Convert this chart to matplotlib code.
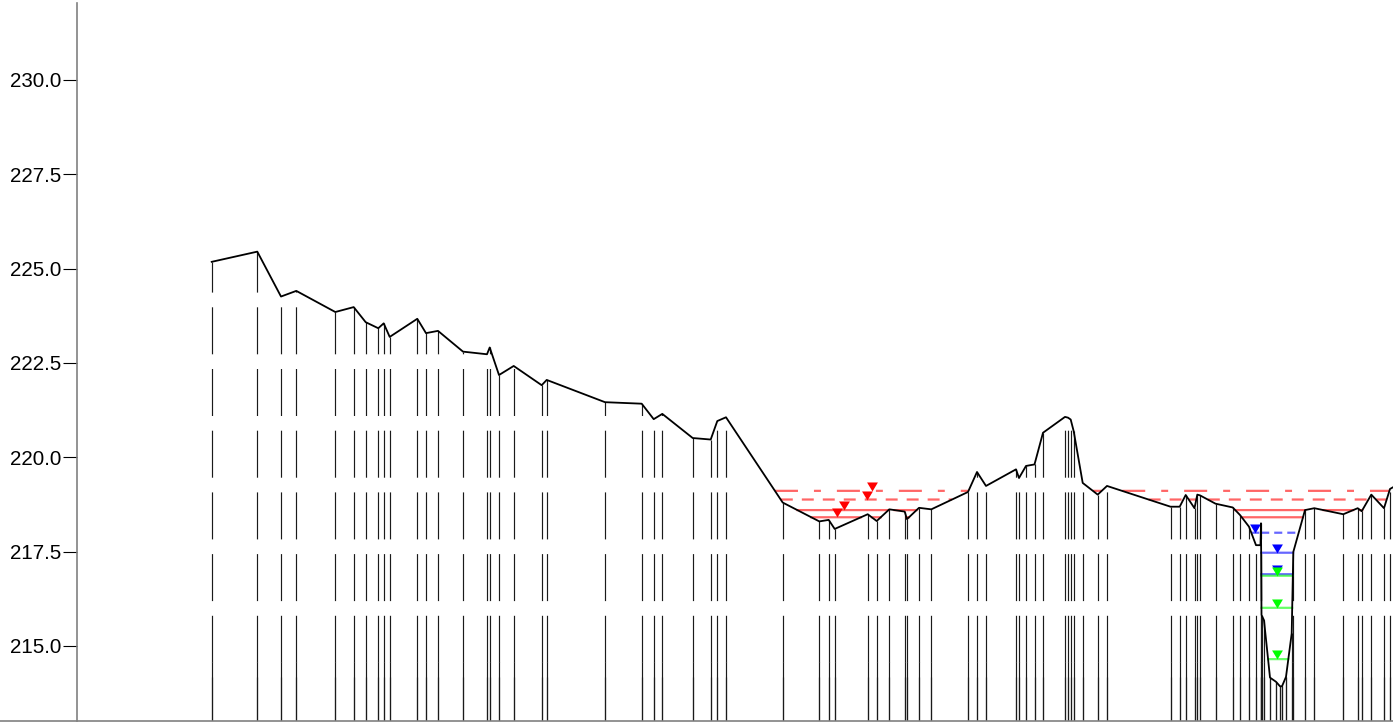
import numpy as np
import matplotlib.pyplot as plt

plt.rcParams['font.family'] = ['Liberation Sans', 'DejaVu Sans']
plt.rcParams['lines.scale_dashes'] = False

# cross-section profile: station (m) and ground elevation (m)
station = [134.7, 180.3, 204.0, 219.3, 258.3, 276.7, 288.7, 301.3, 306.7, 312.7,
           340.3, 349.0, 361.0, 386.0, 410.0, 412.7, 422.0, 436.7, 464.7, 469.7,
           528.0, 564.7, 576.7, 585.3, 615.7, 633.7, 640.3, 649.0, 705.7, 742.3,
           751.7, 757.7, 790.7, 799.7, 812.3, 827.7, 830.0, 842.0, 854.3, 891.0,
           900.0, 909.0, 939.0, 942.0, 949.0, 957.5, 966.0, 988.0, 991.0, 993.7,
           996.7, 1005.7, 1020.7, 1030.0, 1093.5, 1102.7, 1108.7, 1117.5, 1120.3, 1123.0,
           1138.5, 1155.7, 1163.0, 1172.0, 1179.0, 1183.5, 1184.0, 1184.5, 1187.0, 1193.0,
           1199.0, 1203.0, 1205.0, 1209.0, 1214.7, 1216.3, 1228.0, 1237.3, 1266.3, 1280.7,
           1284.7, 1294.3, 1307.0, 1313.0, 1319.0]
elevation = [225.18, 225.45, 224.26, 224.41, 223.85, 223.98, 223.58, 223.42, 223.55, 223.19,
             223.67, 223.29, 223.35, 222.80, 222.73, 222.91, 222.18, 222.42, 221.91, 222.05,
             221.46, 221.42, 221.01, 221.15, 220.51, 220.47, 220.96, 221.06, 218.80, 218.30,
             218.34, 218.10, 218.49, 218.31, 218.62, 218.56, 218.36, 218.66, 218.62, 219.08,
             219.61, 219.24, 219.68, 219.45, 219.77, 219.81, 220.65, 221.07, 221.05, 221.00,
             220.69, 219.32, 219.01, 219.24, 218.69, 218.69, 219.00, 218.65, 219.01, 218.99,
             218.77, 218.67, 218.47, 218.16, 217.67, 217.67, 218.25, 215.82, 215.68, 214.16,
             214.05, 213.93, 213.93, 214.18, 215.33, 217.49, 218.60, 218.65, 218.49, 218.65,
             218.57, 219.01, 218.65, 219.16, 219.25]

# water levels (m) and where their triangle symbols sit
red_levels = [219.11, 218.88, 218.60, 218.41]
red_marker_station = [795, 790, 767, 760]
blue_levels = [218.00, 217.47, 216.90]
blue_marker_station = [1178, 1200, 1200]
green_levels = [216.86, 216.01, 214.65]
green_marker_station = [1200, 1200, 1200]

red_styles = [(0, (16.6, 11.5, 5.0, 11.5)), (0, (8.6, 6.5)), '-', '-']
blue_styles = [(0, (5.8, 3.6)), '-', '-']
green_styles = ['-', '-', '-']

px = 1 / 1.3889  # one pixel in points at dpi 100
tri = [(0, 0), (-0.6, 1), (0.6, 1), (0, 0)]


def draw_levels(ax, xs, ground, levels, styles, marker_st, color):
    for lev, ls, ms in zip(levels, styles, marker_st):
        wet = np.where(ground <= lev, lev, np.nan)
        ax.plot(xs, wet, color=color, alpha=0.6, lw=1.6, linestyle=ls, zorder=3)
        ax.plot([ms], [lev], marker=tri, markersize=13, color=color,
                markeredgewidth=0, linestyle='none', zorder=4)


fig = plt.figure(figsize=(13.93, 7.23), dpi=100)
ax = fig.add_axes([0, 2 / 723, 1, 718 / 723])

ymin, ymax = 213.01, 232.04
ax.set_xlim(-77, 1316)
ax.set_ylim(ymin, ymax)

# vertical lines down from every profile point
st = np.array(station)
el = np.array(elevation)
ax.vlines(st, 212.93, el, colors='#1a1a1a', linewidth=0.85,
          linestyles=[(0, (47 * px, 14.7 * px))], zorder=1)
ax.vlines(st, 212.93, np.minimum(el, 214.58), colors='#1a1a1a', linewidth=0.85, zorder=1)

ax.plot(st, el, color='black', lw=1.3, zorder=5)

xs = np.linspace(st[0], st[-1], 6000)
ground = np.interp(xs, st, el)
draw_levels(ax, xs, ground, red_levels, red_styles, red_marker_station, 'red')
draw_levels(ax, xs, ground, blue_levels, blue_styles, blue_marker_station, 'blue')
draw_levels(ax, xs, ground, green_levels, green_styles, green_marker_station, 'lime')

ax.set_yticks(np.arange(215, 231, 2.5))
ax.set_yticklabels(['%.1f' % v for v in np.arange(215, 231, 2.5)])
ax.set_xticks([])
ax.tick_params(axis='y', direction='out', length=10, width=0.8, pad=1,
               labelsize=14.8, color='black')
ax.spines['left'].set_position(('axes', 77 / 1393))
for side in ['left', 'bottom']:
    ax.spines[side].set_color('#808080')
    ax.spines[side].set_linewidth(1.2)
ax.spines['top'].set_visible(False)
ax.spines['right'].set_visible(False)

fig.savefig('out.png', dpi=100)
